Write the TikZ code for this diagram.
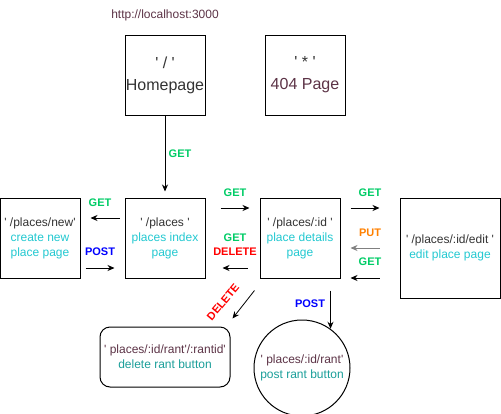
\documentclass[tikz,border=0pt]{standalone}
\usepackage{fontspec}
\setmainfont{Liberation Sans}
\usetikzlibrary{arrows.meta}

\definecolor{txtgrey}{HTML}{333333}
\definecolor{urlred}{HTML}{5C3346}
\definecolor{pagecyan}{HTML}{22C8D0}
\definecolor{rantteal}{HTML}{1A9E99}
\definecolor{getgreen}{HTML}{00CC66}
\definecolor{postblue}{HTML}{0000FF}
\definecolor{delred}{HTML}{FF0000}
\definecolor{putorange}{HTML}{FF8000}

\newcommand{\squote}{\textquotesingle}

\tikzset{
  page/.style={draw, line width=1pt, minimum width=80pt, minimum height=80pt,
    align=center, inner sep=0pt, text=txtgrey, font=\fontsize{12}{15}\selectfont},
  verb/.style={font=\bfseries\fontsize{11}{13}\selectfont},
  arr/.style={-{Stealth[length=7pt,width=6pt]}, line width=0.8pt},
}

\begin{document}
\begin{tikzpicture}[x=1pt,y=-1pt]
\useasboundingbox (0,0) rectangle (501,413);

% pages
\node[text=urlred, font=\fontsize{12}{15}\selectfont] (url) at (165,15) {http://localhost:3000};
\node[page, font=\fontsize{16}{22}\selectfont] (home) at (165,75) {\squote\ / \squote\\Homepage};
\node[page, font=\fontsize{16}{22}\selectfont] (notfound) at (305,75) {\squote\ * \squote\\{\color{urlred}404 Page}};
\node[page] (new) at (40,238) {\squote\ /places/new\squote\\{\color{pagecyan}create new}\\{\color{pagecyan}place page}};
\node[page] (index) at (165,238) {\squote\ /places \squote\\{\color{pagecyan}places index}\\{\color{pagecyan}page}};
\node[page] (id) at (300,238) {\squote\ /places/:id \squote\\{\color{pagecyan}place details}\\{\color{pagecyan}page}};
\node[page, minimum width=100pt, minimum height=100pt] (edit) at (450,248) {\squote\ /places/:id/edit \squote\\{\color{pagecyan}edit place page}};
\node[page, minimum width=130pt, minimum height=60pt, rounded corners=10pt, text=urlred] (delrant) at (165,357) {\squote\ places/:id/rant\squote/:rantid\squote\\{\color{rantteal}delete rant button}};
\node[page, circle, minimum size=96pt, text=urlred] (postrant) at (302,368) {\squote\ places/:id/rant\squote\\{\color{rantteal}post rant button}};

% routes
\draw[arr, shorten >=6pt] (home) -- (index);
\draw[arr, shorten <=5pt, shorten >=10pt] ([yshift=20pt]index.west) -- ([yshift=20pt]new.east);
\draw[arr, shorten <=5pt, shorten >=10pt] ([yshift=-30pt]new.east) -- ([yshift=-30pt]index.west);
\draw[arr, shorten <=15pt, shorten >=10pt] ([yshift=30pt]index.east) -- ([yshift=30pt]id.west);
\draw[arr, shorten <=12pt, shorten >=17pt] ([yshift=-30pt]id.west) -- ([yshift=-30pt]index.east);
\draw[arr, shorten <=10pt, shorten >=20pt] ([yshift=30pt]id.east) -- ([yshift=30pt]id.east -| edit.west);
\draw[arr, gray, shorten <=20pt, shorten >=10pt] (edit.west) -- (edit.west -| id.east);
\draw[arr, shorten <=20pt, shorten >=10pt] ([yshift=-30pt]edit.west) -- ([yshift=-30pt]edit.west -| id.east);
\draw[arr] ([shift={(-5,12)}]id.south west) -- ([shift={(2,-8)}]delrant.north east);
\draw[arr, shorten <=12pt] (postrant.54 |- id.south) -- (postrant.54);

% verbs
\node[verb, text=getgreen] (gethome) at (180,154) {GET};
\node[verb, text=getgreen] (getnew) at (100,203) {GET};
\node[verb, text=postblue] (postnew) at (100,252) {POST};
\node[verb, text=getgreen] (getid) at (235,193) {GET};
\node[verb, text=getgreen] (getback) at (235,238) {GET};
\node[verb, text=delred] (delid) at (235,252) {DELETE};
\node[verb, text=getgreen] (getedit) at (370,193) {GET};
\node[verb, text=putorange] (putedit) at (370,233) {PUT};
\node[verb, text=getgreen] (getcancel) at (370,262) {GET};
\node[verb, text=delred, rotate=50] (delrantlbl) at (223,302) {DELETE};
\node[verb, text=postblue] (postrantlbl) at (310,304) {POST};
\end{tikzpicture}
\end{document}
